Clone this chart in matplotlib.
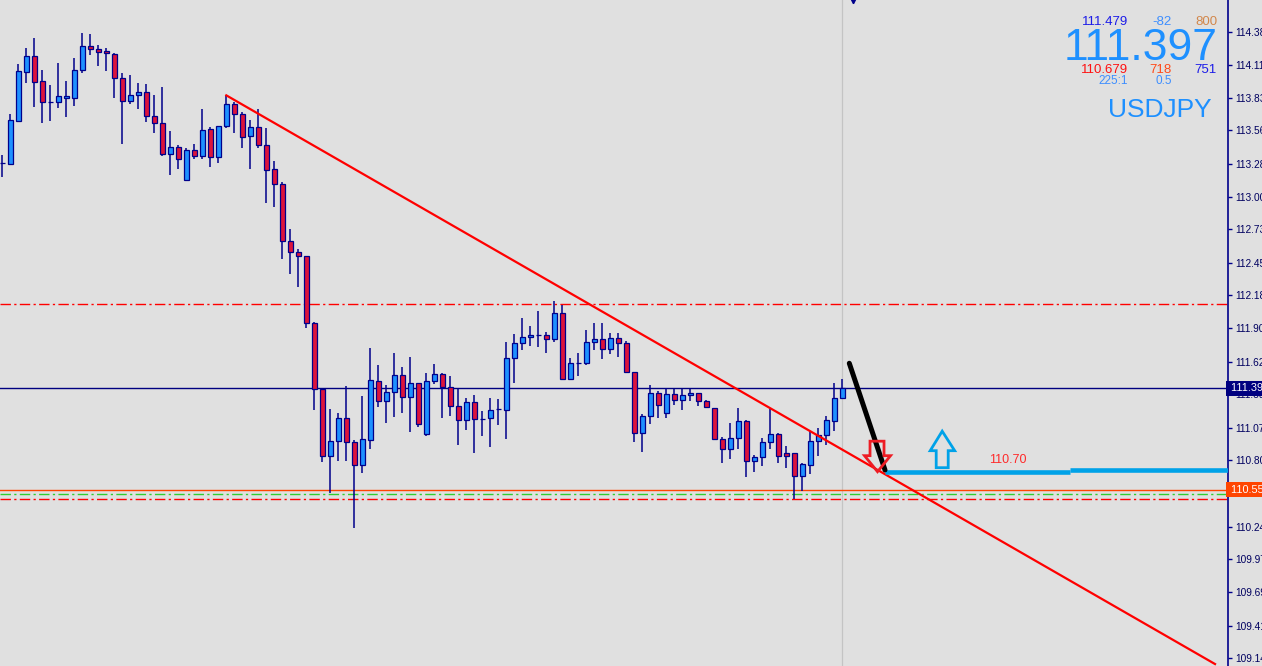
import matplotlib
matplotlib.use('Agg')
import matplotlib.pyplot as plt
from matplotlib.patches import Polygon
from matplotlib.transforms import ScaledTranslation, Affine2D, blended_transform_factory

plt.rcParams['lines.scale_dashes'] = False
plt.rcParams['font.family'] = ['Liberation Sans', 'DejaVu Sans']

# ---------------- data (USDJPY candles) ----------------
opens = [113.283, 113.277, 113.640, 114.050, 114.182, 113.972, 113.794, 113.794, 113.832, 113.832,
         114.062, 114.263, 114.240, 114.223, 114.198, 113.995, 113.802, 113.852, 113.880, 113.677,
         113.618, 113.358, 113.419, 113.146, 113.392, 113.342, 113.568, 113.333, 113.593, 113.780,
         113.693, 113.509, 113.584, 113.434, 113.233, 113.107, 112.630, 112.537, 112.504, 111.943,
         111.395, 110.831, 110.955, 111.147, 110.946, 110.754, 110.963, 111.457, 111.290, 111.365,
         111.507, 111.323, 111.440, 111.013, 111.457, 111.516, 111.407, 111.248, 111.130, 111.281,
         111.144, 111.147, 111.223, 111.214, 111.650, 111.775, 111.826, 111.842, 111.842, 111.809,
         112.027, 111.474, 111.608, 111.608, 111.784, 111.809, 111.725, 111.817, 111.775, 111.532,
         111.022, 111.164, 111.357, 111.194, 111.348, 111.298, 111.340, 111.357, 111.290, 111.231,
         110.971, 110.888, 110.980, 111.122, 110.787, 110.821, 110.946, 111.013, 110.854, 110.854,
         110.661, 110.754, 110.955, 111.005, 111.122, 111.315]
highs = [113.352, 113.696, 114.115, 114.249, 114.335, 114.064, 113.939, 114.123, 113.972, 114.165,
         114.372, 114.366, 114.274, 114.249, 114.207, 114.039, 114.022, 113.955, 113.947, 113.857,
         113.922, 113.553, 113.436, 113.411, 113.445, 113.735, 113.584, 113.593, 113.852, 113.799,
         113.710, 113.646, 113.738, 113.579, 113.302, 113.124, 112.733, 112.565, 112.509, 111.954,
         111.403, 111.225, 111.189, 111.415, 110.965, 111.331, 111.733, 111.591, 111.426, 111.692,
         111.574, 111.658, 111.440, 111.524, 111.599, 111.524, 111.499, 111.398, 111.315, 111.340,
         111.206, 111.315, 111.306, 111.786, 111.852, 111.986, 111.919, 112.046, 111.870, 112.130,
         112.096, 111.650, 111.692, 111.884, 111.943, 111.943, 111.859, 111.859, 111.797, 111.532,
         111.181, 111.424, 111.373, 111.398, 111.390, 111.390, 111.390, 111.357, 111.298, 111.231,
         110.993, 111.105, 111.231, 111.130, 110.837, 110.980, 111.223, 111.022, 110.913, 110.854,
         110.770, 111.038, 111.063, 111.164, 111.440, 111.474]
lows = [113.171, 113.269, 113.631, 113.958, 113.757, 113.623, 113.640, 113.749, 113.673, 113.765,
        114.037, 114.187, 114.100, 114.058, 113.832, 113.447, 113.782, 113.738, 113.631, 113.539,
        113.342, 113.187, 113.238, 113.140, 113.321, 113.321, 113.254, 113.288, 113.576, 113.539,
        113.414, 113.238, 113.414, 112.953, 112.919, 112.484, 112.358, 112.249, 111.906, 111.214,
        110.784, 110.519, 110.792, 110.792, 110.226, 110.687, 110.888, 111.244, 111.105, 111.161,
        111.189, 111.035, 111.072, 110.996, 111.432, 111.147, 111.166, 110.921, 111.047, 110.854,
        110.996, 110.904, 111.089, 110.970, 111.439, 111.722, 111.749, 111.747, 111.698, 111.784,
        111.474, 111.474, 111.504, 111.591, 111.717, 111.641, 111.683, 111.663, 111.532, 110.951,
        110.867, 111.102, 111.152, 111.152, 111.261, 111.219, 111.290, 111.253, 111.239, 110.971,
        110.770, 110.804, 110.888, 110.658, 110.695, 110.745, 110.888, 110.770, 110.728, 110.469,
        110.536, 110.678, 110.829, 110.921, 111.038, 111.315]
closes = [113.283, 113.646, 114.056, 114.182, 113.966, 113.794, 113.794, 113.844, 113.844, 114.062,
          114.263, 114.238, 114.218, 114.204, 113.995, 113.805, 113.852, 113.880, 113.677, 113.618,
          113.358, 113.419, 113.316, 113.394, 113.342, 113.559, 113.333, 113.593, 113.777, 113.693,
          113.501, 113.584, 113.434, 113.224, 113.107, 112.632, 112.537, 112.504, 111.943, 111.395,
          110.831, 110.955, 111.147, 110.946, 110.754, 110.971, 111.465, 111.290, 111.365, 111.507,
          111.323, 111.440, 111.097, 111.457, 111.516, 111.407, 111.248, 111.130, 111.281, 111.139,
          111.144, 111.214, 111.223, 111.650, 111.775, 111.826, 111.842, 111.842, 111.809, 112.027,
          111.474, 111.608, 111.608, 111.784, 111.809, 111.725, 111.817, 111.775, 111.532, 111.022,
          111.164, 111.357, 111.256, 111.348, 111.298, 111.340, 111.357, 111.290, 111.239, 110.971,
          110.888, 110.980, 111.122, 110.787, 110.821, 110.946, 111.013, 110.829, 110.829, 110.661,
          110.762, 110.955, 111.005, 111.130, 111.315, 111.397]

tick_values = [114.38, 114.11, 113.83, 113.56, 113.28, 113.00, 112.73, 112.45, 112.18, 111.90,
               111.62, 111.35, 111.07, 110.80, 110.52, 110.24, 109.97, 109.69, 109.41, 109.14]

bid_price = 111.397
level_orange = 110.55
level_green = 110.513
level_red_low = 110.471
level_red_high = 112.104
target_level = 110.70
trend_start = (28, 113.852)
trend_end = (151.59, 109.089)
black_start = (105.875, 111.608)
black_end = (110.34, 110.714)

info_top = ['111.479', '-82', '800']
info_big = '111.397'
info_mid = ['110.679', '718', '751']
info_low = ['225:1', '0.5']
symbol = 'USDJPY'

# ---------------- figure ----------------
W, H, DPI = 1262, 666, 100
BG = '#E0E0E0'
NAVY = '#000080'
fig = plt.figure(figsize=(W / DPI, H / DPI), dpi=DPI, facecolor=BG)
ax = fig.add_axes([0, 0, 1228 / W, 1])
ax.set_facecolor(BG)
ax.set_xlim(-0.2875, 153.2125)
ax.set_ylim(109.0726, 114.6505)

n = len(opens)
xs = list(range(n))

# current bar vertical line
ax.axvline(n - 1, color='#C4C4C4', lw=0.9, zorder=1)

# horizontal levels
dd = (0, (7.5, 2.4, 1.6, 2.4))
ax.axhline(level_red_high, color='#FF0000', lw=1, ls=dd, zorder=1)
ax.axhline(level_orange, color='#FF4500', lw=1, zorder=1)
ax.axhline(level_green, color='#32CD32', lw=1, ls=dd, zorder=1)
ax.axhline(level_red_low, color='#FF0000', lw=1, ls=dd, zorder=1)
ax.axhline(bid_price, color=NAVY, lw=1, zorder=1)

# candles
ax.vlines(xs, lows, highs, color='#00008B', lw=1.1, zorder=3)
for i in range(n):
    o, c = opens[i], closes[i]
    col = '#1E90FF' if c >= o else '#DC143C'
    ax.bar(i, c - o, bottom=o, width=0.6, color=col, edgecolor='#00008B',
           linewidth=0.9, zorder=4)

# trend line
ax.plot([trend_start[0], trend_end[0]], [trend_start[1], trend_end[1]],
        color='#FF0000', lw=1.6, zorder=5)

# target line (two segments) and label
ax.plot([black_end[0], 133.46], [target_level, target_level], color='#00A2E8', lw=3.3,
        solid_capstyle='butt', zorder=6)
ax.plot([133.46, 153.3], [target_level + 0.012, target_level + 0.012], color='#00A2E8', lw=3.3,
        solid_capstyle='butt', zorder=6)
ax.text(125.7, 110.80, '110.70', color='#FF2A2A', fontsize=9, ha='center', va='center', zorder=7)

# black pointer line
ax.plot([black_start[0], black_end[0]], [black_start[1], black_end[1]], color='black', lw=3.6,
        solid_capstyle='round', zorder=8)


def px_poly(xd, yd, offsets, color):
    tr = (Affine2D().scale(1 / DPI, -1 / DPI) + fig.dpi_scale_trans
          + ScaledTranslation(xd, yd, ax.transData))
    p = Polygon(offsets, closed=True, fill=False, edgecolor=color, lw=2.0,
                joinstyle='miter', transform=tr, zorder=9)
    ax.add_patch(p)


px_poly(black_end[0], target_level,
        [(-15, -30.5), (-1, -30.5), (-1, -16), (5.5, -16), (-7.5, 0), (-20.5, -16), (-15, -16)],
        '#ED1C24')
px_poly(117.55, target_level,
        [(-6.5, -4), (5.5, -4), (5.5, -21), (12, -21), (-0.5, -40.5), (-12.5, -21), (-6.5, -21)],
        '#00A2E8')

# small marker at top
ax.plot([106.3], [114.638], marker='v', color='#00008B', markersize=3.2, clip_on=False, zorder=10)

# axes styling
for s in ['top', 'left', 'bottom']:
    ax.spines[s].set_visible(False)
ax.spines['right'].set_color('#00008B')
ax.spines['right'].set_linewidth(1.2)
ax.set_xticks([])
ax.yaxis.tick_right()
ax.set_yticks(tick_values)
ax.set_yticklabels([f'{v:.2f}' for v in tick_values])
ax.tick_params(axis='y', colors='#00008B', labelcolor='#000060', labelsize=7.3,
               length=3, width=1, pad=2.5)

# price boxes on the axis
bt = blended_transform_factory(ax.transAxes, ax.transData)
ax.text(1.0, bid_price, ' ' + f'{bid_price:.3f}', transform=bt, ha='left', va='center',
        color='white', fontsize=7.8, clip_on=False, zorder=20,
        bbox=dict(boxstyle='square,pad=0.2', fc=NAVY, ec='none'))
ax.text(1.0, level_orange, ' ' + f'{level_orange:.3f}', transform=bt, ha='left', va='center',
        color='white', fontsize=7.8, clip_on=False, zorder=20,
        bbox=dict(boxstyle='square,pad=0.2', fc='#FF4500', ec='none'))


# info panel
def ftxt(x, y, s, **kw):
    fig.text(x / W, 1 - y / H, s, va='baseline', **kw)


ftxt(1128, 25, info_top[0], ha='right', fontsize=9.5, color='#1C1CE8')
ftxt(1172, 25, info_top[1], ha='right', fontsize=9.5, color='#3D8EFF')
ftxt(1217, 25, info_top[2], ha='right', fontsize=9.5, color='#D2874B')
ftxt(1218, 60, info_big, ha='right', fontsize=32, color='#1E90FF')
ftxt(1128, 73.3, info_mid[0], ha='right', fontsize=9.5, color='#FF1010')
ftxt(1172, 73.3, info_mid[1], ha='right', fontsize=9.5, color='#FF4A1A')
ftxt(1217, 73.3, info_mid[2], ha='right', fontsize=9.5, color='#1C1CE8')
ftxt(1128, 84.3, info_low[0], ha='right', fontsize=8.5, color='#3D8EFF')
ftxt(1172, 84.3, info_low[1], ha='right', fontsize=8.5, color='#3D8EFF')
ftxt(1212, 116.7, symbol, ha='right', fontsize=19, color='#1E90FF')

fig.savefig('out.png', dpi=DPI, facecolor=BG)
